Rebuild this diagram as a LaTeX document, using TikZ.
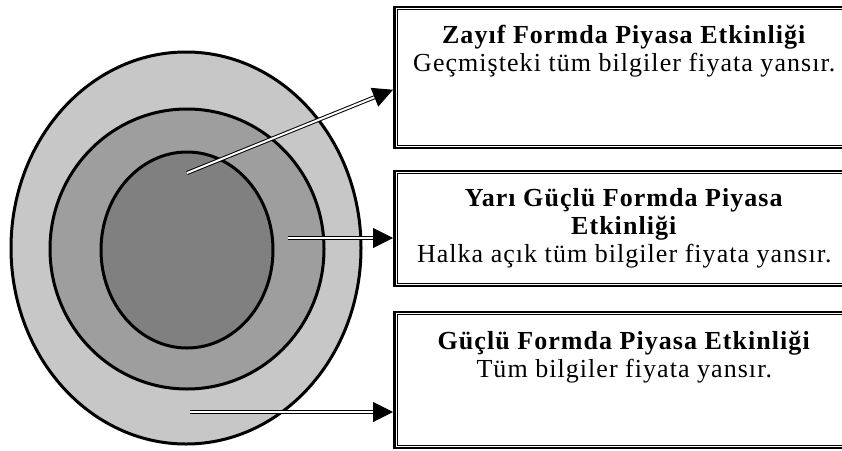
\documentclass[tikz,border=0pt]{standalone}
\usepackage{fontspec}
\newfontfamily\boxfont{Liberation Serif}[LetterSpace=4]
\usepackage{tikz}
\usetikzlibrary{arrows.meta,positioning,calc}

\definecolor{ringOuter}{gray}{0.78}
\definecolor{ringMid}{gray}{0.62}
\definecolor{ringInner}{gray}{0.5}

\tikzset{
  ring/.style={draw, line width=3pt},
  frame/.style={draw, line width=2.5pt, minimum width=460pt, anchor=north west, inner sep=0pt},
  inframe/.style={line width=1pt},
  boxtext/.style={anchor=north, align=center, inner sep=0pt, font=\boxfont\fontsize{26}{28}\selectfont},
  dblarrow/.style={double, double distance=2pt, line width=1pt, -{Triangle[length=20pt,width=20pt]}}
}

\begin{document}
\begin{tikzpicture}[x=1pt, y=-1pt]
    \useasboundingbox (0,0) rectangle (842,450);

    % Left: nested rings
    \draw[ring, fill=ringOuter] (186,248) ellipse [x radius=175pt, y radius=196pt];
    \draw[ring, fill=ringMid] (187,249) ellipse [x radius=137pt, y radius=140pt];
    \draw[ring, fill=ringInner] (187,250) ellipse [x radius=86pt, y radius=98pt];

    \coordinate (zayifStart) at (187,173);
    \coordinate (yariStart) at (288,238);
    \coordinate (gucluStart) at (190,412);

    % Right: boxes
    \node[frame, minimum height=141pt] (zayif) at (393,5.5) {};
    \node[frame, minimum height=115pt] (yari) at (393,169.5) {};
    \node[frame, minimum height=136pt] (guclu) at (393,310.5) {};
    \foreach \b in {zayif,yari,guclu}
        \draw[inframe] ([shift={(4pt,-4pt)}]\b.north west) rectangle ([shift={(-4pt,4pt)}]\b.south east);

    \node[boxtext] (zayifText) at ([yshift=-19pt]zayif.north)
        {\textbf{Zayıf Formda Piyasa Etkinliği}\\Geçmişteki tüm bilgiler fiyata yansır.};
    \node[boxtext] (yariText) at ([yshift=-19pt]yari.north)
        {\textbf{Yarı Güçlü Formda Piyasa}\\\textbf{Etkinliği}\\Halka açık tüm bilgiler fiyata yansır.};
    \node[boxtext] (gucluText) at ([yshift=-20pt]guclu.north)
        {\textbf{Güçlü Formda Piyasa Etkinliği}\\Tüm bilgiler fiyata yansır.};

    % Arrows
    \draw[dblarrow] (zayifStart) -- ([yshift=-12.5pt]zayif.west);
    \draw[dblarrow] (yariStart) -- (yariStart -| yari.west);
    \draw[dblarrow] (gucluStart) -- (gucluStart -| guclu.west);
\end{tikzpicture}
\end{document}
